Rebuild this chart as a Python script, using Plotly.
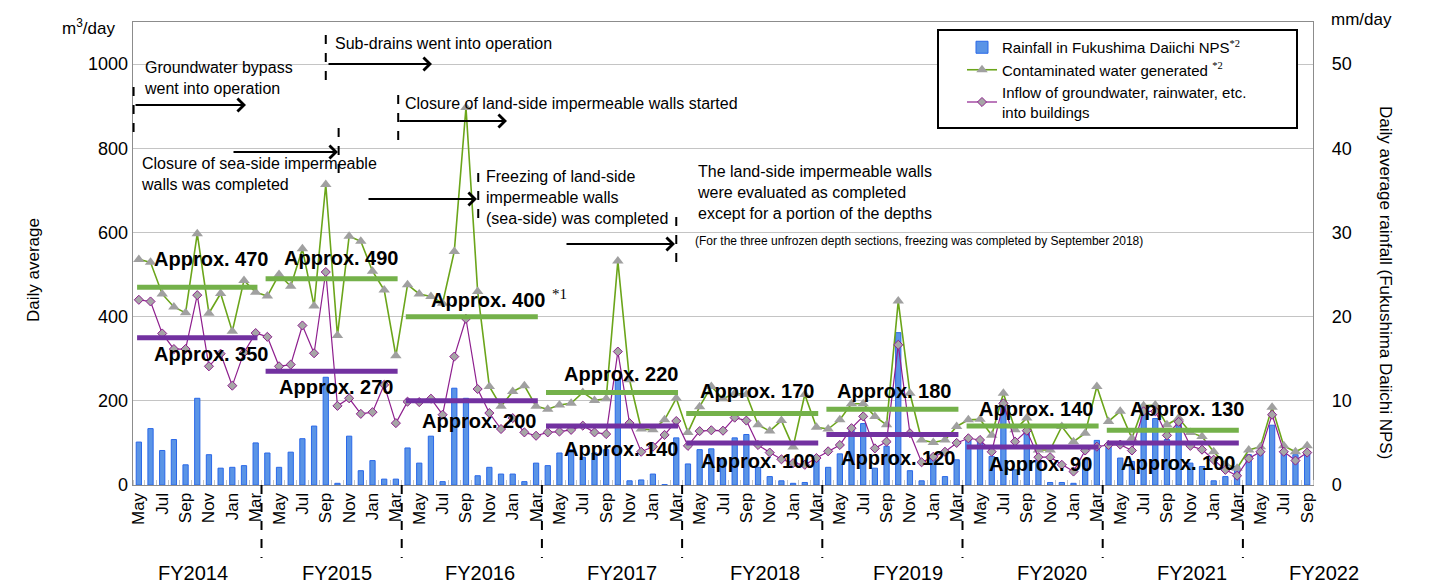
import plotly.graph_objects as go

# ---------------- data ----------------
month_names = ["Jan", "Feb", "Mar", "Apr", "May", "Jun", "Jul", "Aug", "Sep", "Oct", "Nov", "Dec"]
n_months = 101  # May 2014 .. Sep 2022
month_labels = [month_names[(i + 4) % 12] for i in range(n_months)]

# Rainfall in Fukushima Daiichi NPS (mm/day)
rainfall = [
    5.1, 6.7, 4.1, 5.4, 2.4, 10.3, 3.6, 2.0, 2.1, 2.3, 5.0,                  # FY2014 (May-Mar)
    3.8, 2.1, 3.9, 5.5, 7.0, 12.8, 0.2, 5.8, 1.7, 2.9, 0.7, 0.7,             # FY2015
    4.4, 2.6, 5.8, 0.4, 11.5, 10.3, 1.1, 2.1, 1.3, 1.3, 0.4, 2.6,            # FY2016
    2.3, 3.8, 4.2, 3.3, 3.8, 4.2, 12.5, 0.5, 0.6, 1.3, 0.05, 5.6,            # FY2017
    2.5, 4.2, 4.3, 3.1, 5.6, 6.0, 2.1, 1.0, 0.5, 0.2, 0.3, 3.2,              # FY2018
    2.1, 3.7, 6.5, 7.3, 2.0, 4.6, 18.1, 1.7, 0.5, 3.4, 1.0, 3.0,             # FY2019
    5.6, 5.3, 3.4, 10.1, 1.8, 6.6, 3.0, 0.3, 0.3, 0.2, 3.0, 5.3,             # FY2020
    4.8, 3.2, 2.8, 8.7, 7.9, 5.4, 7.5, 2.6, 2.2, 0.5, 1.0, 2.2,              # FY2021
    3.6, 3.9, 7.1, 3.8, 3.6, 3.8,                                            # FY2022 (Apr-Sep)
]

# Contaminated water generated (m3/day)
generated = [
    536, 529, 454, 423, 409, 597, 408, 455, 365, 486, 458,
    449, 500, 472, 561, 425, 714, 355, 591, 579, 508, 463, 307,
    476, 454, 448, 432, 555, 897, 460, 234, 187, 222, 236, 187,
    180, 190, 194, 220, 201, 205, 532, 250, 133, 131, 155, 206,
    125, 186, 234, 205, 218, 215, 143, 128, 153, 90, 215, 137,
    133, 155, 193, 193, 163, 143, 437, 218, 107, 101, 107, 139,
    155, 156, 118, 218, 131, 159, 83, 83, 139, 103, 123, 234,
    151, 175, 111, 188, 190, 143, 159, 125, 115, 79, 50, 40,
    83, 91, 185, 93, 79, 93,
]

# Inflow of groundwater, rainwater, etc. into buildings (m3/day)
inflow = [
    440, 436, 360, 323, 323, 451, 282, 312, 236, 315, 361,
    352, 282, 286, 379, 313, 506, 188, 206, 169, 173, 238, 147,
    198, 197, 205, 167, 305, 395, 228, 171, 133, 159, 125, 117,
    125, 127, 131, 141, 125, 121, 317, 147, 79, 91, 119, 152,
    93, 128, 130, 129, 160, 153, 95, 77, 61, 52, 48, 64,
    80, 95, 135, 163, 87, 103, 333, 123, 54, 67, 79, 100,
    111, 107, 79, 194, 103, 129, 66, 66, 48, 32, 82, 91,
    95, 96, 82, 175, 175, 118, 150, 93, 84, 60, 36, 22,
    63, 79, 167, 79, 58, 77,
]

fy_labels = ["FY2014", "FY2015", "FY2016", "FY2017", "FY2018", "FY2019", "FY2020", "FY2021", "FY2022"]
fy_first = [0, 11, 23, 35, 47, 59, 71, 83, 95]
fy_last = [10, 22, 34, 46, 58, 70, 82, 94, 100]
avg_generated = [470, 490, 400, 220, 170, 180, 140, 130]
avg_inflow = [350, 270, 200, 140, 100, 120, 90, 100]

# ---------------- geometry helpers ----------------
W, H = 1431, 585
L, R, T, B = 133, 118, 22, 100
PW, PH = W - L - R, H - T - B


def pxx(x):  # pixel x -> paper
    return (x - L) / PW


def pxy(y):  # pixel y -> paper
    return (H - B - y) / PH


def xp(v):  # data x -> paper
    return (v + 0.5) / n_months


FONT = "Liberation Sans, Arial, sans-serif"
SERIF = "Liberation Serif"
GREEN_LINE = "#6BA51A"
PURPLE_LINE = "#8E1F8E"
GREEN_AVG = "#74B14A"
PURPLE_AVG = "#7231A0"

x_idx = list(range(n_months))

fig = go.Figure()

fig.add_trace(go.Bar(
    x=x_idx, y=rainfall, yaxis="y", width=0.45,
    marker=dict(color="#5A94E6", line=dict(color="#2A68E8", width=1)),
    name="Rainfall in Fukushima Daiichi NPS<span style='font-family:Liberation Serif'><sup>*2</sup></span>",
))
fig.add_trace(go.Scatter(
    x=x_idx, y=generated, yaxis="y2", mode="lines+markers",
    line=dict(color=GREEN_LINE, width=1.6),
    marker=dict(symbol="triangle-up", size=10, color="#A0A0A0", line=dict(width=0)),
    name="Contaminated water generated <span style='font-family:Liberation Serif'><sup>*2</sup></span>",
))
fig.add_trace(go.Scatter(
    x=x_idx, y=inflow, yaxis="y2", mode="lines+markers",
    line=dict(color=PURPLE_LINE, width=1.2),
    marker=dict(symbol="diamond", size=7, color="#A6A6A6", line=dict(color=PURPLE_LINE, width=1)),
    name="Inflow of groundwater, rainwater, etc.<br>into buildings",
))

for k in range(len(avg_generated)):
    xs = [fy_first[k] - 0.15, fy_last[k] + 0.15]
    fig.add_trace(go.Scatter(x=xs, y=[avg_generated[k]] * 2, yaxis="y2", mode="lines",
                             line=dict(color=GREEN_AVG, width=5), showlegend=False, hoverinfo="skip"))
    fig.add_trace(go.Scatter(x=xs, y=[avg_inflow[k]] * 2, yaxis="y2", mode="lines",
                             line=dict(color=PURPLE_AVG, width=5), showlegend=False, hoverinfo="skip"))

annotations = []
shapes = []


def label(x, y, text, size, **kw):
    d = dict(x=pxx(x), y=pxy(y), xref="paper", yref="paper", showarrow=False,
             xanchor="center", yanchor="middle", text=text, font=dict(size=size, color="black"))
    d.update(kw)
    return d


# average labels (pixel centres)
gen_label_pos = [(211, 259), (341, 258), (488, 300), (621, 374), (757, 391), (894, 391), (1036, 409), (1187, 409)]
inf_label_pos = [(211, 354), (336, 387), (479, 421), (621, 449), (758, 461), (898, 458), (1040, 464), (1178, 463)]
for k in range(len(avg_generated)):
    gx, gy = gen_label_pos[k]
    ix, iy = inf_label_pos[k]
    annotations.append(label(gx, gy, f"<b>Approx. {avg_generated[k]}</b>", 20))
    annotations.append(label(ix, iy, f"<b>Approx. {avg_inflow[k]}</b>", 20))
annotations.append(label(550, 294, "*1", 15, xanchor="left", font=dict(size=15, color="black", family=SERIF)))

# event texts (left edge, centre y)
event_texts = [
    ("Sub-drains went into operation", 333, 44, 16),
    ("Groundwater bypass<br>went into operation", 142, 78, 16),
    ("Closure of land-side impermeable walls started", 403, 103, 16),
    ("Closure of sea-side impermeable<br>walls was completed", 139, 174, 16),
    ("Freezing of land-side<br>impermeable walls<br>(sea-side) was completed", 484, 197, 16),
    ("The land-side impermeable walls<br>were evaluated as completed<br>except for a portion of the depths", 695, 193, 16),
    ("(For the three unfrozen depth sections, freezing was completed by September 2018)", 693, 241, 12),
]
for txt, lx, cy, fs in event_texts:
    annotations.append(label(lx, cy, txt, fs, xanchor="left", align="left"))

# event markers: (month index of event line, line top px, line bottom px, arrow y px, arrow tail px, arrow head px)
events = [
    (-0.45, 87, 138, 105, 134, 246),
    (16.0, 35, 87, 64, 327, 432),
    (22.2, 95, 147, 121, 398, 507),
    (17.1, 128, 180, 152, 232, 338),
    (29.05, 173, 226, 199, 367, 477),
    (46.0, 217, 270, 244, 565, 675),
]
for ev_x, y0, y1, ay_px, tail, head in events:
    shapes.append(dict(type="line", xref="paper", yref="paper", x0=xp(ev_x), x1=xp(ev_x),
                       y0=pxy(y0), y1=pxy(y1), line=dict(color="black", width=2, dash="dash")))
    annotations.append(dict(x=pxx(head), y=pxy(ay_px), xref="paper", yref="paper", text="",
                            showarrow=True, ax=tail - head, ay=0, axref="pixel", ayref="pixel",
                            arrowhead=4, arrowsize=1.4, arrowwidth=1.8, arrowcolor="black", standoff=0))

# fiscal-year separators and labels
for k in range(len(fy_labels) - 1):
    xb = xp(fy_last[k] + 0.5)
    shapes.append(dict(type="line", xref="paper", yref="paper", x0=xb, x1=xb, y0=0, y1=pxy(558),
                       line=dict(color="black", width=2, dash="dash")))
fy_label_px = [193, 337, 480, 622, 765, 908, 1052, 1192, 1324]
for k, lab in enumerate(fy_labels):
    annotations.append(label(fy_label_px[k], 573, lab, 20))

# axis titles / units
annotations += [
    label(88, 27, "m<sup>3</sup>/day", 17),
    label(1361, 19, "mm/day", 17),
    label(33, 270, "Daily average", 17, textangle=-90),
    label(1386, 282, "Daily average rainfall (Fukushima Daiichi NPS)", 17, textangle=90),
]

# legend box
shapes.append(dict(type="rect", xref="paper", yref="paper", x0=pxx(938), x1=pxx(1297), y0=pxy(128), y1=pxy(30),
                   line=dict(color="black", width=2), fillcolor="white", layer="above"))

fig.update_layout(
    width=W, height=H,
    margin=dict(l=L, r=R, t=T, b=B, pad=0),
    paper_bgcolor="white", plot_bgcolor="white",
    font=dict(family=FONT, color="black"),
    bargap=0.5,
    xaxis=dict(
        range=[-0.5, n_months - 0.5], tickmode="array",
        tickvals=x_idx[::2], ticktext=month_labels[::2], tickangle=-90,
        tickfont=dict(size=17, color="black"), showgrid=False, zeroline=False,
        showline=True, linecolor="#8C8C8C", linewidth=1.2, mirror=True, ticks="",
        minor=dict(ticks="inside", tick0=0.5, dtick=1, ticklen=5, tickcolor="#C8C8C8", tickwidth=1),
    ),
    yaxis=dict(
        side="right", range=[0, 55], tickvals=[0, 10, 20, 30, 40, 50],
        tickfont=dict(size=18, color="black"), showgrid=True, gridcolor="#C4C4C4", gridwidth=1,
        zeroline=False, showline=True, linecolor="#8C8C8C", linewidth=1.2, mirror=True,
        ticks="", ticklabelstandoff=14,
    ),
    yaxis2=dict(
        side="left", overlaying="y", range=[0, 1100], tickvals=[0, 200, 400, 600, 800, 1000],
        tickfont=dict(size=18, color="black"), showgrid=False, zeroline=False, ticks="",
        ticklabelstandoff=4,
    ),
    legend=dict(
        x=pxx(962), y=pxy(31), xanchor="left", yanchor="top",
        bgcolor="rgba(0,0,0,0)", borderwidth=0, font=dict(size=15, color="black"),
        tracegroupgap=0, itemwidth=30,
    ),
    showlegend=True,
    annotations=annotations,
    shapes=shapes,
)

fig.write_html("out.html", config={"displayModeBar": False},
               post_script="document.body.style.margin='0px';")
